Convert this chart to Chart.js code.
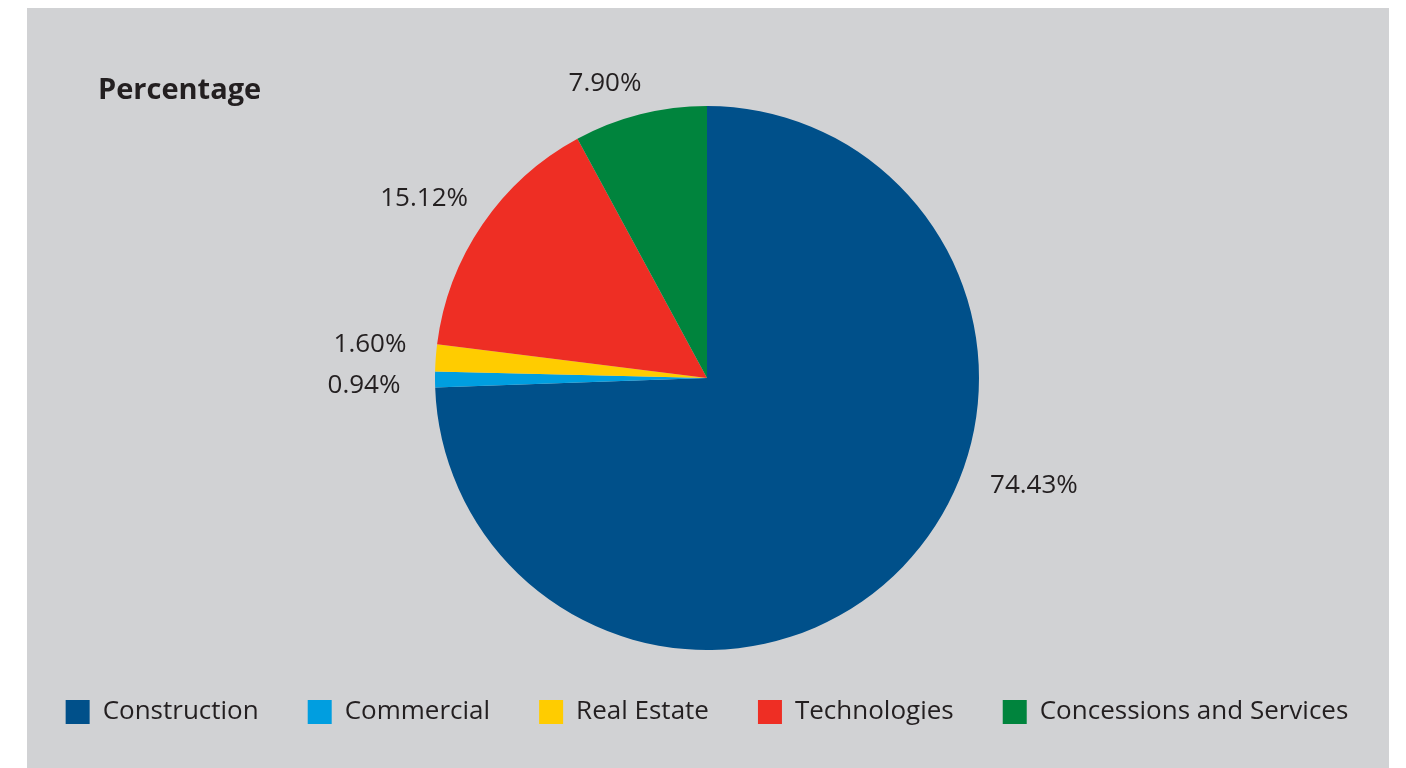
<!DOCTYPE html>
<html>
<head>
<meta charset="utf-8">
<script src="https://cdn.jsdelivr.net/npm/chart.js@4.4.1/dist/chart.umd.min.js"></script>
<style>
  html, body { margin: 0; padding: 0; background: #ffffff; width: 1406px; height: 768px; overflow: hidden; }
  #panel { position: absolute; left: 27px; top: 8px; width: 1362px; height: 760px; background: #d1d2d4; }
  #title { position: absolute; left: 98px; top: 68px; font-family: "Open Sans", sans-serif; font-weight: 700; font-size: 29px; color: #231f20; }
  #wrap { position: absolute; left: 0; top: 8px; width: 1406px; height: 760px; }
</style>
</head>
<body>
<div id="panel"></div>
<div id="wrap"><canvas id="c"></canvas></div>
<div id="title">Percentage</div>
<script>
const categories = ["Construction", "Commercial", "Real Estate", "Technologies", "Concessions and Services"];
const percentages = [74.43, 0.94, 1.60, 15.12, 7.90];
const valueLabels = ["74.43%", "0.94%", "1.60%", "15.12%", "7.90%"];
const sliceColors = ["#00508a", "#009ee0", "#ffcc00", "#ee2e24", "#00843d"];

// label placement relative to pie centre, in units of the pie radius
const labelOffsets = [[1.202, 0.397], [-1.261, 0.029], [-1.239, -0.121], [-1.040, -0.658], [-0.375, -1.081]];

const outsideLabels = {
  id: 'outsideLabels',
  afterDatasetsDraw(chart) {
    const ctx = chart.ctx;
    const meta = chart.getDatasetMeta(0);
    ctx.save();
    ctx.font = '26px "Open Sans", sans-serif';
    ctx.fillStyle = '#231f20';
    ctx.textAlign = 'center';
    ctx.textBaseline = 'middle';
    meta.data.forEach((arc, i) => {
      const r = arc.outerRadius;
      const off = labelOffsets[i];
      ctx.fillText(valueLabels[i], arc.x + off[0] * r, arc.y + off[1] * r);
    });
    ctx.restore();
  }
};

new Chart(document.getElementById('c'), {
  type: 'pie',
  data: {
    labels: categories,
    datasets: [{
      data: percentages,
      backgroundColor: sliceColors,
      borderWidth: 0
    }]
  },
  options: {
    responsive: true,
    maintainAspectRatio: false,
    animation: false,
    layout: { padding: { top: 98, bottom: 33, left: 8, right: 0 } },
    plugins: {
      tooltip: { enabled: false },
      legend: {
        position: 'bottom',
        labels: {
          boxWidth: 24,
          boxHeight: 24,
          padding: 49,
          color: '#231f20',
          font: { family: '"Open Sans", sans-serif', size: 26 }
        }
      }
    }
  },
  plugins: [outsideLabels]
});
</script>
</body>
</html>
